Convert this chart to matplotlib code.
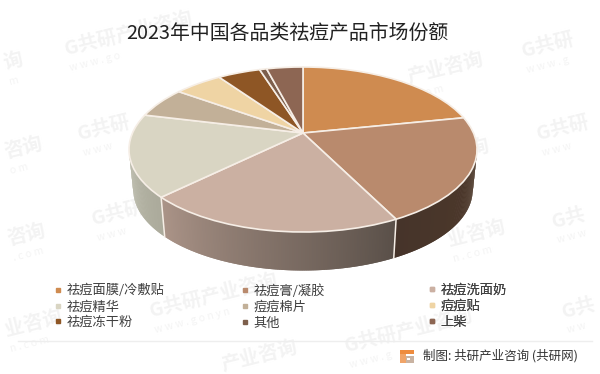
import numpy as np
import matplotlib
matplotlib.use("Agg")
import matplotlib.pyplot as plt
from matplotlib.lines import Line2D
from matplotlib.patches import Rectangle
from matplotlib.transforms import Transform
from matplotlib.colors import to_rgb

plt.rcParams['font.family'] = ['Noto Sans CJK SC', 'DejaVu Sans']

title = "2023年中国各品类祛痘产品市场份额"
categories = ["祛痘面膜/冷敷贴", "祛痘膏/凝胶", "祛痘洗面奶", "祛痘精华", "痘痘棉片",
              "痘痘贴", "祛痘冻干粉", "其他", "上柴"]
shares = [21.8, 20.8, 20.1, 16.1, 6.1, 5.4, 4.8, 0.8, 4.1]
colors = ["#cf8b50", "#b98a6d", "#cbb0a2", "#d9d5c3", "#c2b098", "#efd4a4",
          "#8e5625", "#7d5f4c", "#8d6653"]
source = "制图: 共研产业咨询 (共研网)"
# watermark pieces as they show in the picture: main text, x, y, sub text
wm_tiles = [
    ("询", 4, 64, "m"), ("咨询", 5, 153, "o m"), ("咨询", 8, 240, ". c o m"),
    ("业咨询", 5, 331, "n . c o m"),
    ("G共研产业咨询", 65, 50, "w w w . g o"), ("G共研", 78, 135, "w w w"),
    ("G共研", 92, 220, "w w w"), ("G共研产业咨询", 150, 312, "w w w . g o n y n"),
    ("产业咨询", 222, 366, ""),
    ("产业咨询", 408, 78, ". c o m"), ("咨询", 452, 155, "o m"), ("业咨询", 448, 241, "n . c o m"),
    ("G共研", 522, 52, "w w w . g"), ("G共研", 537, 135, "w w w"), ("G共", 552, 222, "w w w"),
    ("G共研产业咨询", 345, 347, "w w w . g"), ("G共", 562, 312, "w w"),
]

# perspective of the pie disc
CX, CY, A, B, K = 303.0, 133.0, 170.5, 79.2, 0.2
DEPTH, SHRINK = 41.0, 0.975
EDGE = "#f6eee6"


def project(x, y, s=1.0, d=0.0):
    w = 1 + K * y
    return CX + s * A * x / w, CY + d - s * B * y / w


class Perspective(Transform):
    input_dims = output_dims = 2

    def transform_non_affine(self, values):
        v = np.asarray(values, dtype=float)
        return np.column_stack(project(v[:, 0], v[:, 1]))


fig = plt.figure(figsize=(6.0, 3.74), dpi=100, facecolor="white")
ax = fig.add_axes([0, 0, 1, 1])

ax.pie(shares, colors=colors, startangle=90, counterclock=False,
       wedgeprops=dict(edgecolor=EDGE, linewidth=1.2, zorder=5,
                       transform=Perspective() + ax.transData))
ax.set_aspect("auto")
ax.set_xlim(0, 600)
ax.set_ylim(374, 0)
ax.axis("off")

# side wall, from the same share boundaries
edges = np.concatenate([[0], np.cumsum(shares)]) / sum(shares) * 360
wall_stops = {1: ("#4f3a2b", "#46342a"), 2: ("#5a5049", "#ab9488"), 3: ("#abaa9b", "#bcbcac")}
T_MIN, T_MAX = 101.5, 258.5
for i, (c0, c1) in wall_stops.items():
    lo, hi = max(edges[i], T_MIN), min(edges[i + 1], T_MAX)
    n = int((hi - lo) / 0.5) + 1
    ts = np.linspace(lo, hi, n + 1)
    for j in range(n):
        t = np.radians(ts[j:j + 3])
        x, y = np.sin(t), np.cos(t)
        xa, ya = project(x, y)
        xb, yb = project(x, y, SHRINK, DEPTH)
        f = j / max(n - 1, 1)
        col = tuple((1 - f) * a + f * b for a, b in zip(to_rgb(c0), to_rgb(c1)))
        ax.fill(list(xa) + list(xb[::-1]), list(ya) + list(yb[::-1]), facecolor=col,
                edgecolor="none", zorder=3)
for e in edges[[2, 3]]:
    t = np.radians(e)
    xa, ya = project(np.sin(t), np.cos(t))
    xb, yb = project(np.sin(t), np.cos(t), SHRINK, DEPTH)
    ax.plot([xa, xb], [ya, yb], color=EDGE, lw=1.1, zorder=4)

# watermark
for (txt, wx, wy, sub) in wm_tiles:
    ax.text(wx, wy, txt, fontsize=14, fontweight="bold", color="#f3f3f3", rotation=14,
            ha="left", va="center", rotation_mode="anchor", zorder=1)
    if sub:
        ax.text(wx + 5, wy + 18, sub, fontsize=7.5, color="#f4f4f4", rotation=14,
                ha="left", va="center", rotation_mode="anchor", zorder=1)

ax.text(287, 33, title, fontsize=14.3, color="#222222", ha="center", va="center", zorder=6)

# legend, read row by row
for col in range(3):
    idx = list(range(col, len(categories), 3))
    handles = [Line2D([], [], ls="", marker="s", ms=2.8, color=colors[i]) for i in idx]
    leg = ax.legend(handles, [categories[i] for i in idx], loc="upper left",
                    bbox_to_anchor=((53 + 187 * col) / 600, 1 - 284 / 374),
                    bbox_transform=ax.transAxes, frameon=False, fontsize=9.5,
                    labelcolor="#404040", handlelength=0.7, handletextpad=0.32,
                    labelspacing=0.22, borderpad=0, borderaxespad=0)
    leg.set_zorder(6)
    ax.add_artist(leg)

# footer
ax.plot([18, 592], [341, 341], color="#eeeeee", lw=1, zorder=2)
ax.add_patch(Rectangle((400, 350), 14, 4, color="#ee8c3e", lw=0, zorder=6))
ax.add_patch(Rectangle((400, 354), 6, 9, color="#f0a468", lw=0, zorder=6))
ax.add_patch(Rectangle((406, 356), 8, 7, color="#c9b3a2", lw=0, zorder=6))
ax.add_patch(Rectangle((407, 358), 3, 2, color="white", lw=0, zorder=7))
ax.text(423, 356, source, fontsize=9.0, color="#333333", ha="left", va="center", zorder=6)

fig.savefig("out.png", dpi=100)
